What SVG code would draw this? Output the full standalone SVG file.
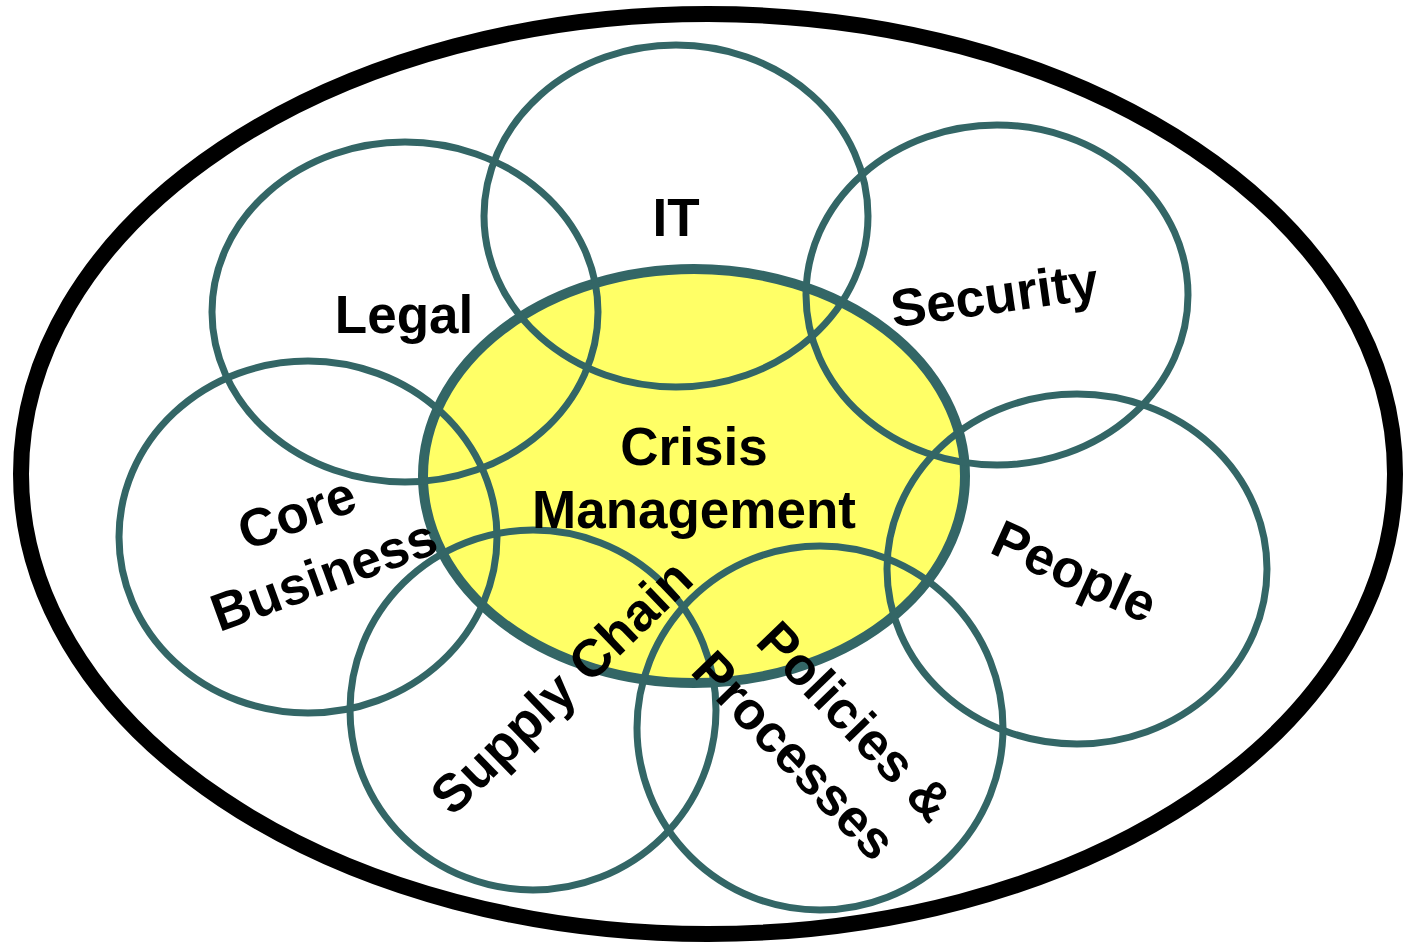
<svg xmlns="http://www.w3.org/2000/svg" width="1404" height="946" viewBox="0 0 1404 946">
  <style>
    .ring { fill: none; stroke: #336666; stroke-width: 7; }
    .core { fill: #FFFF66; stroke: #336666; stroke-width: 10; }
    .frame { fill: #FFFFFF; stroke: #000000; stroke-width: 16; }
    .lbl { font-family: "Liberation Sans", Arial, sans-serif; font-weight: bold; font-size: 53px; fill: #000000; text-anchor: middle; }
  </style>
  <rect width="1404" height="946" fill="#FFFFFF"/>
  <!-- enclosing boundary -->
  <ellipse class="frame" cx="708" cy="474" rx="687" ry="460"/>
  <!-- central domain -->
  <g id="crisis-management">
    <ellipse class="core" cx="694" cy="476" rx="271" ry="207"/>
  </g>
  <!-- surrounding domains -->
  <g id="it"><ellipse class="ring" cx="676" cy="216" rx="192" ry="171"/></g>
  <g id="legal"><ellipse class="ring" cx="405" cy="312" rx="193" ry="170"/></g>
  <g id="security"><ellipse class="ring" cx="997" cy="295" rx="191" ry="170"/></g>
  <g id="core-business"><ellipse class="ring" cx="308" cy="537" rx="189" ry="176"/></g>
  <g id="people"><ellipse class="ring" cx="1077" cy="569" rx="190" ry="175"/></g>
  <g id="supply-chain"><ellipse class="ring" cx="533" cy="710" rx="183" ry="180"/></g>
  <g id="policies-processes"><ellipse class="ring" cx="820" cy="728" rx="183" ry="182"/></g>
  <g id="connectors"></g>
  <!-- labels -->
  <g id="labels">
    <text class="lbl" x="694" y="465">Crisis</text>
    <text class="lbl" x="694" y="528">Management</text>
    <text class="lbl" x="676" y="236">IT</text>
    <text class="lbl" x="404" y="333">Legal</text>
    <text class="lbl" transform="translate(997,313) rotate(-8)">Security</text>
    <text class="lbl" transform="translate(1067,588) rotate(24.5)">People</text>
    <text class="lbl" transform="translate(303,530) rotate(-20)">Core</text>
    <text class="lbl" transform="translate(330,592) rotate(-20)">Business</text>
    <text class="lbl" transform="translate(574,700) rotate(-44)">Supply Chain</text>
    <text class="lbl" transform="translate(842,734) rotate(46)">Policies &amp;</text>
    <text class="lbl" transform="translate(781,768) rotate(46)">Processes</text>
  </g>
</svg>
